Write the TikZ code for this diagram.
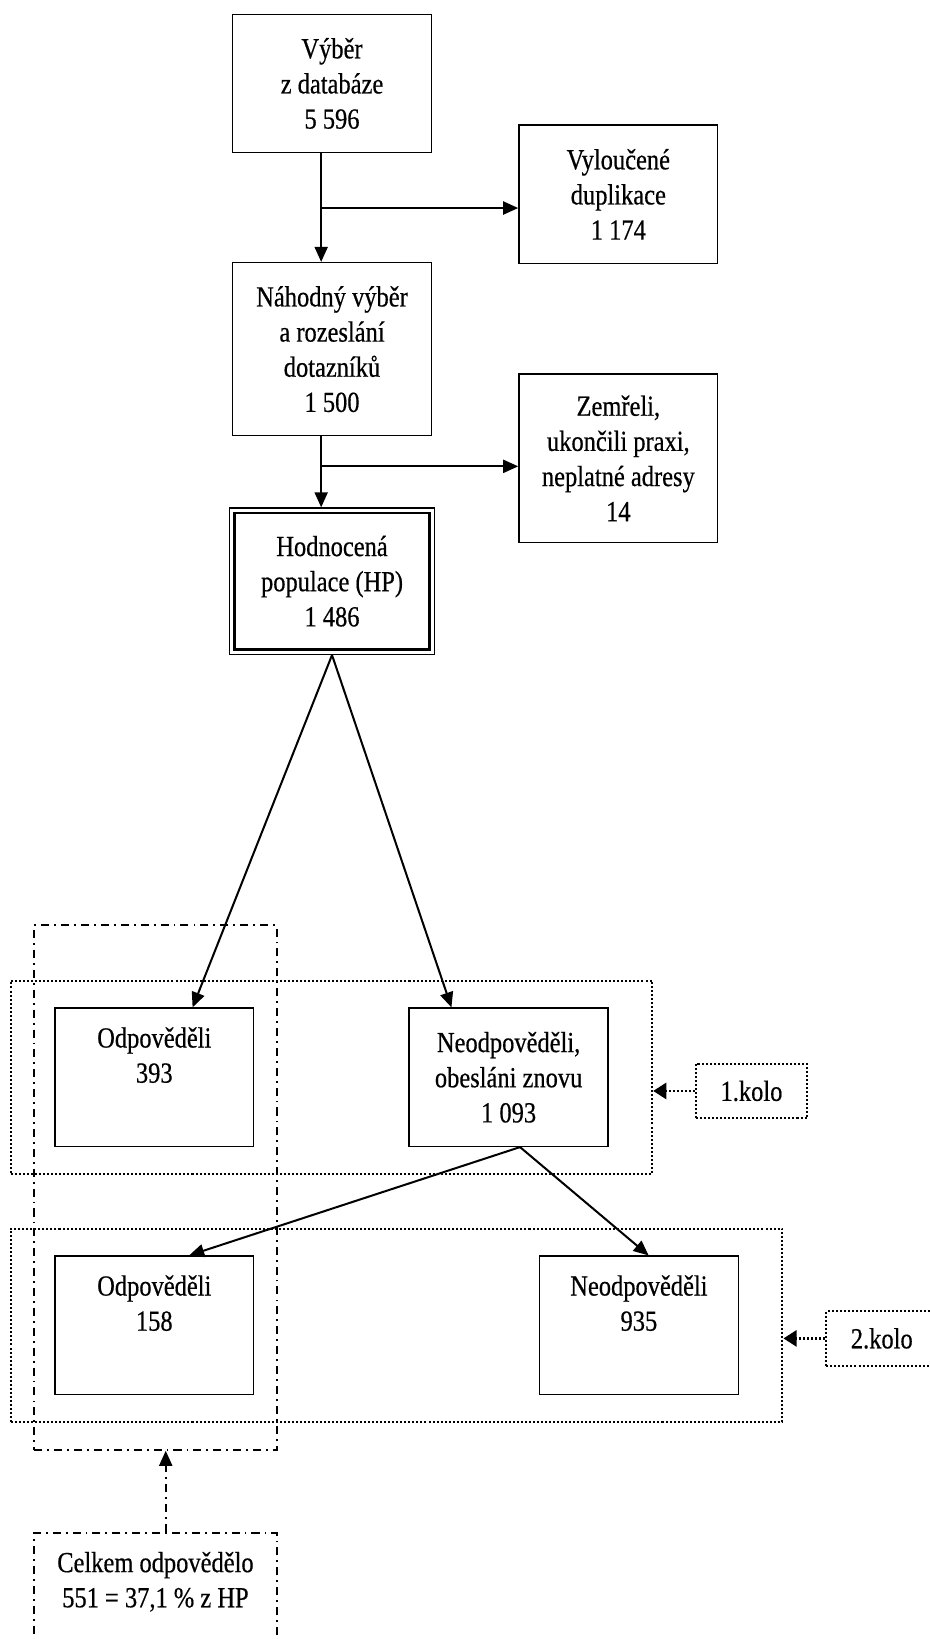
\documentclass[tikz,border=0pt]{standalone}
\usepackage{fontspec}
\setmainfont{Liberation Serif}[FakeStretch=0.84,FakeBold=0.5]
\usepackage{tikz}
\usetikzlibrary{arrows.meta,fit}
\newcommand{\boxwidth}{3.48cm}
\newcommand{\thin}{0.7pt}
\newcommand{\topped}[2][3.2cm]{\parbox[t][1.75cm][t]{#1}{\centering #2}}

\begin{document}
\begin{tikzpicture}[
  font=\fontsize{14.5pt}{17.5pt}\selectfont,
  box/.style={draw, line width=\thin, align=center, inner sep=2pt, minimum width=\boxwidth, minimum height=2.42cm},
  arr/.style={line width=1pt, -{Triangle[length=7.5pt,width=6.5pt]}},
  dotline/.style={line width=1pt, dash pattern=on 1pt off 1pt},
  dotarr/.style={dotline, line width=1.2pt, -{Triangle[length=6.5pt,width=8pt]}},
  grp/.style={draw, dotline, inner xsep=0.76cm, inner ysep=0.47cm},
  kolobox/.style={draw, dotline, minimum width=1.94cm, minimum height=0.96cm},
  dashdot/.style={draw, line width=0.9pt, dash pattern=on 4pt off 2.5pt on 0.9pt off 2.5pt},
  dasharr/.style={dashdot, -{Triangle[length=7.5pt,width=6.5pt]}}
]
\useasboundingbox (0,0) rectangle (16.26,-28.68);
% vyber
\node[box] (sel) at (5.81,-1.46) {Výběr\\z databáze\\5 596};
\node[box] (dupl) at (10.82,-3.40) {Vyloučené\\duplikace\\1 174};
\node[box, minimum height=3.03cm] (rand) at (5.81,-6.11) {Náhodný výběr\\a rozeslání\\dotazníků\\1 500};
\node[box, minimum height=2.95cm] (dead) at (10.82,-8.02) {Zemřeli,\\ukončili praxi,\\neplatné adresy\\14};
\node[box, minimum width=3.59cm, minimum height=2.56cm] (hp) at (5.81,-10.17) {Hodnocená\\populace (HP)\\1 486};
\draw[line width=1.2pt] ([shift={(0.1,-0.1)}]hp.north west) rectangle ([shift={(-0.1,0.1)}]hp.south east);
% kola
\node[box] (odp1) at (2.70,-18.85) {\topped{Odpověděli\\393}};
\node[box] (neodp1) at (8.90,-18.85) {Neodpověděli,\\obesláni znovu\\1 093};
\node[box] (odp2) at (2.70,-23.19) {\topped{Odpověděli\\158}};
\node[box] (neodp2) at (11.18,-23.19) {\topped{Neodpověděli\\935}};
\node[grp, fit=(odp1)(neodp1)] (g1) {};
\node[grp, fit=(odp2)(neodp2)] (g2) {};
\node[kolobox] (k1) at (13.15,-19.09) {1.kolo};
\node[kolobox] (k2) at (15.43,-23.42) {2.kolo};
% celkem
\node[dashdot, minimum width=4.24cm, minimum height=9.18cm] (tot) at (2.72,-20.78) {};
\node[box, dashdot, minimum width=4.24cm] (sum) at (2.72,-28.03) {\topped[4cm]{Celkem odpovědělo\\551 = 37,1 \% z HP}};
\coordinate (j1) at (5.62,-3.64);
\coordinate (j2) at (5.62,-8.16);
\coordinate (j3) at (2.90,-26.0);
\draw[arr] (sel.south -| j1) -- (rand.north -| j1);
\draw[arr] (j1) -- (j1 -| dupl.west);
\draw[arr] (rand.south -| j2) -- (hp.north -| j2);
\draw[arr] (j2) -- (j2 -| dead.west);
\draw[arr] (hp.south) -- ([xshift=0.67cm]odp1.north);
\draw[arr] (hp.south) -- ([xshift=-1.0cm]neodp1.north);
\draw[arr] ([xshift=0.2cm]neodp1.south) -- ([xshift=0.61cm]odp2.north);
\draw[arr] ([xshift=0.2cm]neodp1.south) -- ([xshift=0.17cm]neodp2.north);
\draw[dotarr] (k1.west) -- (k1.west -| g1.east);
\draw[dotarr] (k2.west) -- (k2.west -| g2.east);
\draw[dasharr] (sum.north -| j3) -- (tot.south -| j3);
\end{tikzpicture}
\end{document}
